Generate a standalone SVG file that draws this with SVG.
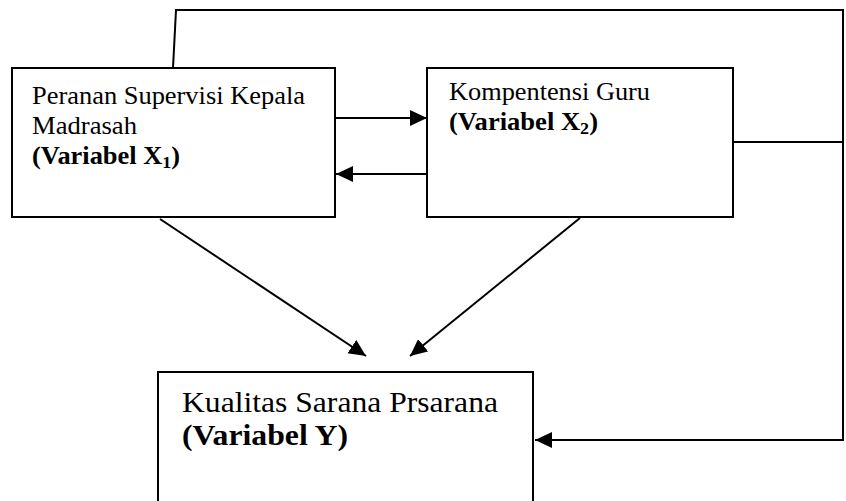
<svg xmlns="http://www.w3.org/2000/svg" width="846" height="501" viewBox="0 0 846 501">
<style>
.box{fill:#fff;stroke:#000;stroke-width:2}
.ln{fill:none;stroke:#000;stroke-width:2}
.t{font-family:"Liberation Serif","Times New Roman",serif;fill:#000}
.b{font-weight:bold}
</style>
<defs>
<marker id="ah" markerUnits="userSpaceOnUse" markerWidth="18" markerHeight="18" refX="17" refY="8" orient="auto">
<path d="M0,0 L17,8 L0,16 Z" fill="#000"/>
</marker>
</defs>
<rect width="846" height="501" fill="#fff"/>
<g id="connectors">
<polyline class="ln" points="173,68 176,10 843,10 843,440 762,440"/>
<line class="ln" x1="843" y1="440" x2="535" y2="440" marker-end="url(#ah)"/>
<line class="ln" x1="733" y1="142" x2="843" y2="142"/>
<line class="ln" x1="336" y1="118" x2="427" y2="118" marker-end="url(#ah)"/>
<line class="ln" x1="427" y1="174" x2="336" y2="174" marker-end="url(#ah)"/>
<line class="ln" x1="160" y1="219" x2="366" y2="356" marker-end="url(#ah)"/>
<line class="ln" x1="580" y1="218" x2="410" y2="356" marker-end="url(#ah)"/>
</g>
<g id="node-x1">
<rect class="box" x="12" y="68" width="323" height="149"/>
<text class="t" x="32" y="104" font-size="25" textLength="273" lengthAdjust="spacingAndGlyphs">Peranan Supervisi Kepala</text>
<text class="t" x="32" y="134" font-size="25" textLength="105" lengthAdjust="spacingAndGlyphs">Madrasah</text>
<text class="t b" x="32" y="164" font-size="25" textLength="148" lengthAdjust="spacingAndGlyphs">(Variabel X<tspan font-size="17" dy="4">1</tspan><tspan dy="-4">)</tspan></text>
</g>
<g id="node-x2">
<rect class="box" x="427" y="68" width="306" height="149"/>
<text class="t" x="449" y="100" font-size="25" textLength="201" lengthAdjust="spacingAndGlyphs">Kompentensi Guru</text>
<text class="t b" x="449" y="130" font-size="25" textLength="149" lengthAdjust="spacingAndGlyphs">(Variabel X<tspan font-size="17" dy="4">2</tspan><tspan dy="-4">)</tspan></text>
</g>
<g id="node-y">
<rect class="box" x="158" y="372" width="375" height="140"/>
<text class="t" x="182" y="412" font-size="30" textLength="316" lengthAdjust="spacingAndGlyphs">Kualitas Sarana Prsarana</text>
<text class="t b" x="182" y="445" font-size="30" textLength="166" lengthAdjust="spacingAndGlyphs">(Variabel Y)</text>
</g>
</svg>
